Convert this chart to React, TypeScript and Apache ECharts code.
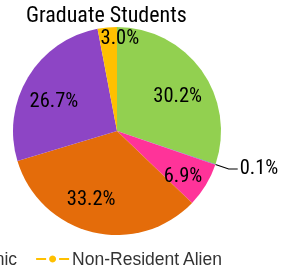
import React, { useEffect, useRef } from "react";
import * as echarts from "echarts";

const categories = ["White", "American Indian", "Black", "Asian", "Hispanic", "Non-Resident Alien"];
const values = [30.2, 0.1, 6.9, 33.2, 26.7, 3.0];
const legendItems = ["Hispanic", "Non-Resident Alien"];
const titleText = "Graduate Students";

const colors = ["#92d050", "#3f6fc4", "#ff3399", "#e46c0a", "#8d45c5", "#ffc000"];
const labelOffsets = [[16, -4], [0, 0], [19, 15], [-13, 14], [-16, -3], [8, -39]];
const outsideLabel = [false, true, false, false, false, false];

const NARROW = "'Roboto Condensed', 'Liberation Sans Narrow', sans-serif";
const legendIcon =
  "path://M0,2.5 H10 V4.5 H0 Z M23,2.5 H33 V4.5 H23 Z M16.5,0 A3.5,3.5 0 1,1 16.49,0 Z";

export default function App() {
  const ref = useRef<HTMLDivElement>(null);
  useEffect(() => {
    if (!ref.current) return;
    const chart = echarts.init(ref.current, undefined, { renderer: "svg" });
    const data = categories.map((name, i) => ({
      name,
      value: values[i],
      itemStyle: { color: colors[i] },
      label: outsideLabel[i]
        ? { position: "outside", show: true, distanceToLabelLine: 2 }
        : { position: "inside", show: true, offset: labelOffsets[i] },
      labelLine: { show: outsideLabel[i] },
    }));
    chart.setOption({
      animation: false,
      title: {
        text: titleText,
        left: 21,
        top: -2,
        textStyle: { fontFamily: NARROW, fontSize: 22, fontWeight: "normal", color: "#000" },
      },
      legend: {
        data: legendItems,
        left: -91,
        top: 245,
        width: 1000,
        icon: legendIcon,
        itemWidth: 33,
        itemHeight: 7,
        itemGap: 19,
        textStyle: { fontFamily: "'Liberation Sans', Arial, sans-serif", fontSize: 17.5, color: "#333", padding: [0, 0, 0, -2] },
      },
      series: [
        {
          type: "pie",
          center: [117, 131],
          radius: 104,
          startAngle: 90,
          clockwise: true,
          avoidLabelOverlap: false,
          data,
          label: {
            formatter: (p: any) => p.value.toFixed(1) + "%",
            fontFamily: NARROW,
            fontSize: 20.5,
            color: "#000",
          },
          labelLine: {
            length: 14,
            length2: 9,
            lineStyle: { color: "#000", width: 1.2 },
          },
          labelLayout: (p: any) => (outsideLabel[p.dataIndex] ? { dy: -2 } : {}),
          emphasis: { disabled: true },
        },
      ],
    });
    return () => chart.dispose();
  }, []);
  return (
    <div
      ref={ref}
      style={{ position: "fixed", left: 0, top: 0, width: 287, height: 270 }}
    />
  );
}
